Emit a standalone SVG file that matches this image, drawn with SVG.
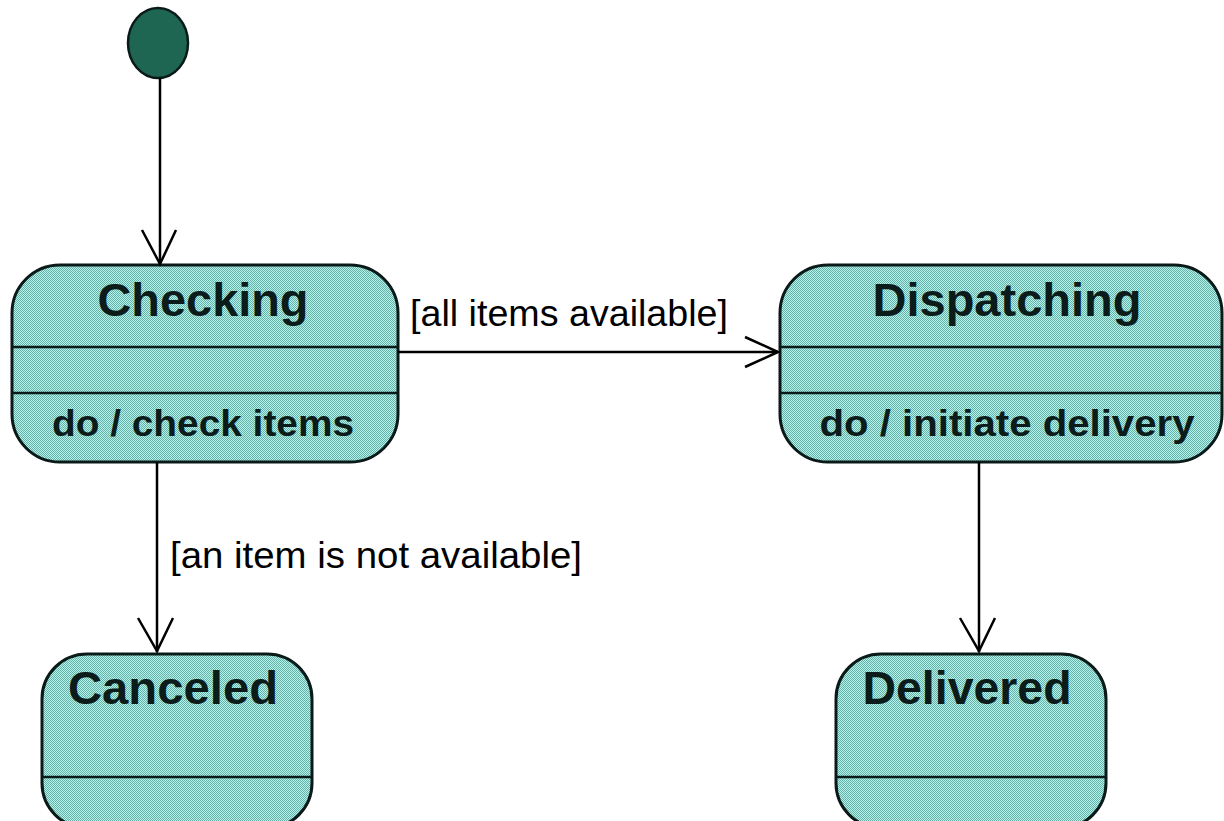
<svg xmlns="http://www.w3.org/2000/svg" width="1224" height="821" viewBox="0 0 1224 821">
  <defs>
    <pattern id="chk" width="2" height="2" patternUnits="userSpaceOnUse">
      <rect width="2" height="2" fill="#b2f4ec"/>
      <rect width="1" height="1" fill="#66b0a8"/>
      <rect x="1" y="1" width="1" height="1" fill="#66b0a8"/>
    </pattern>
    <style>
      .box { fill: url(#chk); stroke: #0a1a18; stroke-width: 3; }
      .div { stroke: #0a1a18; stroke-width: 2.5; }
      .title { font-family: "Liberation Sans", Arial, sans-serif; font-weight: bold; font-size: 47px; fill: #0b1c1a; text-anchor: middle; }
      .act { font-family: "Liberation Sans", Arial, sans-serif; font-weight: bold; font-size: 36px; fill: #0b1c1a; text-anchor: middle; }
      .lbl { font-family: "Liberation Sans", Arial, sans-serif; font-size: 36px; fill: #000; }
      .edge { stroke: #000; stroke-width: 2.5; fill: none; }
    </style>
  </defs>
  <rect width="1224" height="821" fill="#ffffff"/>

  <g id="initial">
    <ellipse cx="158" cy="43" rx="30" ry="35" fill="#1f6652" stroke="#0a1a18" stroke-width="2.5"/>
  </g>

  <g id="checking">
    <rect class="box" x="12" y="265" width="386" height="197" rx="48" ry="48"/>
    <line class="div" x1="12" y1="347" x2="398" y2="347"/>
    <line class="div" x1="12" y1="393" x2="398" y2="393"/>
    <text class="title" x="203" y="316" textLength="211" lengthAdjust="spacingAndGlyphs">Checking</text>
    <text class="act" x="203" y="436" textLength="302" lengthAdjust="spacingAndGlyphs">do / check items</text>
  </g>

  <g id="dispatching">
    <rect class="box" x="780" y="265" width="442" height="197" rx="48" ry="48"/>
    <line class="div" x1="780" y1="347" x2="1222" y2="347"/>
    <line class="div" x1="780" y1="393" x2="1222" y2="393"/>
    <text class="title" x="1007" y="316" textLength="269" lengthAdjust="spacingAndGlyphs">Dispatching</text>
    <text class="act" x="1007" y="436" textLength="375" lengthAdjust="spacingAndGlyphs">do / initiate delivery</text>
  </g>

  <g id="canceled">
    <rect class="box" x="42" y="654" width="270" height="174" rx="45" ry="45"/>
    <line class="div" x1="42" y1="777" x2="312" y2="777"/>
    <text class="title" x="173" y="704" textLength="210" lengthAdjust="spacingAndGlyphs">Canceled</text>
  </g>

  <g id="delivered">
    <rect class="box" x="836" y="654" width="270" height="174" rx="45" ry="45"/>
    <line class="div" x1="836" y1="777" x2="1106" y2="777"/>
    <text class="title" x="967" y="704" textLength="209" lengthAdjust="spacingAndGlyphs">Delivered</text>
  </g>

  <g id="connectors">
    <line class="edge" x1="160" y1="78" x2="160" y2="264"/>
    <polyline class="edge" points="142,230 160,264 176,230"/>

    <line class="edge" x1="398" y1="352" x2="778" y2="352"/>
    <polyline class="edge" points="745,337 778,352 745,367"/>
    <text class="lbl" x="410" y="326" textLength="318" lengthAdjust="spacingAndGlyphs">[all items available]</text>

    <line class="edge" x1="157" y1="462" x2="157" y2="652"/>
    <polyline class="edge" points="138,618 157,651 173,618"/>
    <text class="lbl" x="170" y="568" textLength="412" lengthAdjust="spacingAndGlyphs">[an item is not available]</text>

    <line class="edge" x1="979" y1="462" x2="979" y2="652"/>
    <polyline class="edge" points="960,618 979,651 995,618"/>
  </g>
</svg>
